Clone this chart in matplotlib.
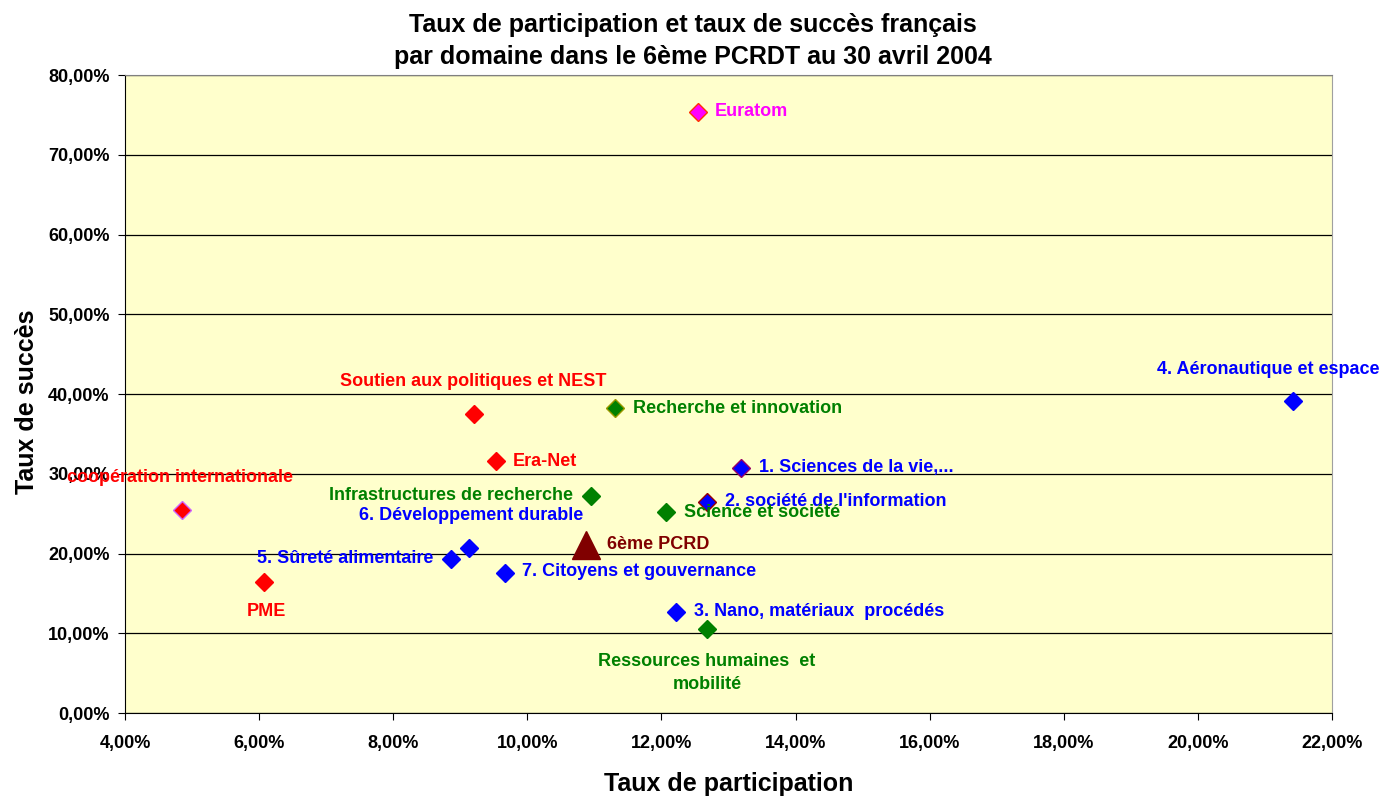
import matplotlib
matplotlib.use("Agg")
import matplotlib.pyplot as plt
from matplotlib.ticker import FuncFormatter, MultipleLocator

plt.rcParams['font.family'] = ['Liberation Sans', 'DejaVu Sans']
plt.rcParams['font.weight'] = 'bold'

# data: taux de participation (%) and taux de succes (%)
noms = ["Euratom", "4. Aéronautique et espace", "Soutien aux politiques et NEST",
        "Recherche et innovation", "Era-Net", "1. Sciences de la vie,...",
        "coopération internationale", "Infrastructures de recherche",
        "2. société de l'information", "Science et société", "6ème PCRD",
        "6. Développement durable", "5. Sûreté alimentaire",
        "7. Citoyens et gouvernance", "PME", "3. Nano, matériaux  procédés",
        "Ressources humaines  et\nmobilité"]
participation = [12.54, 21.42, 9.20, 11.31, 9.53, 13.19, 4.85, 10.95,
                 12.68, 12.07, 10.87, 9.13, 8.86, 9.67, 6.07, 12.22, 12.68]
succes = [75.4, 39.1, 37.5, 38.2, 31.6, 30.7, 25.5, 27.2,
          26.5, 25.2, 21.1, 20.7, 19.3, 17.6, 16.4, 12.7, 10.5]

# styles
couleurs = ["#FF00FF", "#0000FF", "#FF0000", "#008000", "#FF0000", "#0000FF",
            "#FF0000", "#008000", "#0000FF", "#008000", "#800000", "#0000FF",
            "#0000FF", "#0000FF", "#FF0000", "#0000FF", "#008000"]
bords = ["#FF3300", "#0000FF", "#FF0000", "#999900", "#FF0000", "#990066",
         "#CC66FF", "#008000", "#990000", "#008000", "#800000", "#0000FF",
         "#0000FF", "#0000FF", "#FF0000", "#0000FF", "#008000"]
# label offsets in pixels (dx, dy) and horizontal alignment
decal = [(17, 0, 'left'), (-136, 32, 'left'), (-134, 32, 'left'),
         (18, 0, 'left'), (17, 0, 'left'), (18, 1, 'left'),
         (-115, 32, 'left'), (-18, 1, 'right'), (18, 0, 'left'),
         (18, 0, 'left'), (21, 0, 'left'), (114, 32, 'right'),
         (-17, 1, 'right'), (17, 1, 'left'), (3, -29, 'center'),
         (18, 0, 'left'), (0, -44, 'center')]

fig = plt.figure(figsize=(13.9, 7.98), dpi=100)
ax = fig.add_axes([0.0899, 0.1065, 0.8684, 0.7995])
ax.set_facecolor("#FFFFCC")

for i in range(len(noms)):
    if noms[i] == "6ème PCRD":
        ax.plot(participation[i], succes[i], marker='^', ms=20, color=couleurs[i],
                mec=bords[i], ls='none', zorder=3)
    else:
        ax.plot(participation[i], succes[i], marker='D', ms=9, color=couleurs[i],
                mec=bords[i], mew=1, ls='none', zorder=3)
    dx, dy, ha = decal[i]
    ax.annotate(noms[i], (participation[i], succes[i]),
                xytext=(dx * 0.72, dy * 0.72), textcoords='offset points',
                ha=ha, va='center', multialignment='center', linespacing=1.45,
                color=couleurs[i], fontsize=13, fontweight='bold', zorder=4)

ax.set_xlim(4, 22)
ax.set_ylim(0, 80)
ax.xaxis.set_major_locator(MultipleLocator(2))
ax.yaxis.set_major_locator(MultipleLocator(10))
fmt = FuncFormatter(lambda v, p: ("%.2f%%" % v).replace('.', ','))
ax.xaxis.set_major_formatter(fmt)
ax.yaxis.set_major_formatter(fmt)
ax.tick_params(axis='both', labelsize=13, length=5, color='black')
ax.tick_params(axis='x', pad=11)
ax.tick_params(axis='y', pad=6)
for lab in ax.get_xticklabels() + ax.get_yticklabels():
    lab.set_fontweight('bold')

ax.yaxis.grid(True, color='black', lw=0.9)
ax.set_axisbelow(True)
ax.spines['left'].set_color('black')
ax.spines['bottom'].set_color('black')
ax.spines['top'].set_color('#808080')
ax.spines['right'].set_color('#a0a0a0')

ax.set_xlabel("Taux de participation", fontsize=18, fontweight='bold', va='center')
ax.xaxis.set_label_coords(0.5, -0.111)
ax.set_ylabel("Taux de succès", fontsize=18, fontweight='bold', va='center')
ax.yaxis.set_label_coords(-0.0812, 0.4875)
fig.text(0.4986, 0.9486,
         "Taux de participation et taux de succès français\npar domaine dans le 6ème PCRDT au 30 avril 2004",
         ha='center', va='center', fontsize=18, fontweight='bold', linespacing=1.38)

fig.savefig("out.png", dpi=100)
